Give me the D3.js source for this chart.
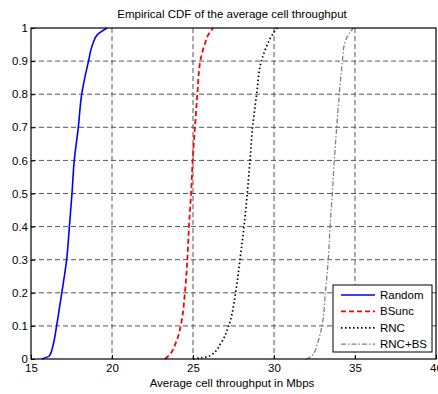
<!DOCTYPE html>
<html>
<head>
<meta charset="utf-8">
<script src="https://cdn.jsdelivr.net/npm/d3@7"></script>
<style>
  body { margin: 0; background: #fff; }
  svg { font-family: "Liberation Sans", Arial, sans-serif; }
</style>
</head>
<body>
<svg id="chart" width="438" height="394"></svg>
<script>
// CDF levels shared by all curves
const cdfLevels = [0, 0.01, 0.05, 0.1, 0.2, 0.3, 0.4, 0.5, 0.6, 0.7, 0.8, 0.9, 0.95, 0.98, 1];

// throughput (Mbps) at each CDF level
const randomX = [15.66, 16.15, 16.4, 16.58, 16.9, 17.2, 17.37, 17.53, 17.67, 17.92, 18.13, 18.55, 18.8, 19.1, 19.7];
const bsuncX  = [23.27, 23.5, 23.95, 24.24, 24.5, 24.65, 24.75, 24.88, 24.98, 25.12, 25.27, 25.45, 25.72, 25.95, 26.25];
const rncX    = [25.0, 26.05, 26.75, 27.2, 27.63, 27.9, 28.15, 28.35, 28.52, 28.68, 28.93, 29.22, 29.59, 29.9, 30.2];
const rncbsX  = [31.98, 32.35, 32.7, 32.96, 33.17, 33.35, 33.46, 33.6, 33.72, 33.87, 34.03, 34.22, 34.34, 34.6, 34.9];

const seriesNames = ["Random", "BSunc", "RNC", "RNC+BS"];
const xTicks = [15, 20, 25, 30, 35, 40];
const yTicks = [0, 0.1, 0.2, 0.3, 0.4, 0.5, 0.6, 0.7, 0.8, 0.9, 1];

const styles = [
  {color: "#0000ff", dash: null, width: 1.6},
  {color: "#ff0000", dash: "5,3", width: 1.8},
  {color: "#000000", dash: "1.5,2.5", width: 1.7},
  {color: "#808080", dash: "5,2,1.5,2", width: 1.3}
];

const svg = d3.select("#chart");
const plotLeft = 31, plotRight = 436, plotTop = 28, plotBottom = 359;

const x = d3.scaleLinear().domain([15, 40]).range([plotLeft, plotRight]);
const y = d3.scaleLinear().domain([0, 1]).range([plotBottom, plotTop]);

// grid
svg.append("g").selectAll("line")
  .data(xTicks.slice(1, -1))
  .join("line")
  .attr("x1", d => x(d)).attr("x2", d => x(d))
  .attr("y1", plotTop).attr("y2", plotBottom)
  .attr("stroke", "#555").attr("stroke-width", 1)
  .attr("stroke-dasharray", "5,3");

svg.append("g").selectAll("line")
  .data(yTicks.slice(1, -1))
  .join("line")
  .attr("x1", plotLeft).attr("x2", plotRight)
  .attr("y1", d => y(d)).attr("y2", d => y(d))
  .attr("stroke", "#555").attr("stroke-width", 1)
  .attr("stroke-dasharray", "5,3");

// curves
const allX = [randomX, bsuncX, rncX, rncbsX];
const line = d3.line()
  .x(d => x(d[0]))
  .y(d => y(d[1]))
  .curve(d3.curveMonotoneY);

allX.forEach((xs, i) => {
  const pts = xs.map((v, j) => [v, cdfLevels[j]]);
  svg.append("path")
    .datum(pts)
    .attr("d", line)
    .attr("fill", "none")
    .attr("stroke", styles[i].color)
    .attr("stroke-width", styles[i].width)
    .attr("stroke-dasharray", styles[i].dash);
});

// axes box
svg.append("rect")
  .attr("x", plotLeft).attr("y", plotTop)
  .attr("width", plotRight - plotLeft).attr("height", plotBottom - plotTop)
  .attr("fill", "none").attr("stroke", "#000").attr("stroke-width", 1.2);

const axisX = d3.axisBottom(x).tickValues(xTicks).tickSize(-4).tickPadding(5);
svg.append("g")
  .attr("transform", `translate(0,${plotBottom})`)
  .call(axisX)
  .call(g => g.select(".domain").remove())
  .call(g => g.selectAll("text").attr("font-size", 11.5).attr("fill", "#000").attr("font-family", "Liberation Sans, Arial, sans-serif"));

const axisY = d3.axisLeft(y).tickValues(yTicks).tickSize(-4).tickPadding(3)
  .tickFormat(d => d === 0 || d === 1 ? d3.format("d")(d) : d3.format(".1f")(d));
svg.append("g")
  .attr("transform", `translate(${plotLeft},0)`)
  .call(axisY)
  .call(g => g.select(".domain").remove())
  .call(g => g.selectAll("text").attr("font-size", 11.5).attr("fill", "#000").attr("font-family", "Liberation Sans, Arial, sans-serif"));

// title and label
svg.append("text")
  .attr("x", 232).attr("y", 18)
  .attr("text-anchor", "middle").attr("font-size", 11.5)
  .text("Empirical CDF of the average cell throughput");

svg.append("text")
  .attr("x", 232).attr("y", 387)
  .attr("text-anchor", "middle").attr("font-size", 11.5)
  .text("Average cell throughput in Mbps");

// legend
const lg = svg.append("g");
lg.append("rect")
  .attr("x", 333).attr("y", 285).attr("width", 99).attr("height", 67)
  .attr("fill", "#fff").attr("stroke", "#000").attr("stroke-width", 1);

seriesNames.forEach((name, i) => {
  const ly = 295 + i * 16.4;
  lg.append("line")
    .attr("x1", 341).attr("x2", 375)
    .attr("y1", ly).attr("y2", ly)
    .attr("stroke", styles[i].color)
    .attr("stroke-width", styles[i].width)
    .attr("stroke-dasharray", styles[i].dash);
  lg.append("text")
    .attr("x", 380).attr("y", ly + 4)
    .attr("font-size", 11.5)
    .text(name);
});
</script>
</body>
</html>
